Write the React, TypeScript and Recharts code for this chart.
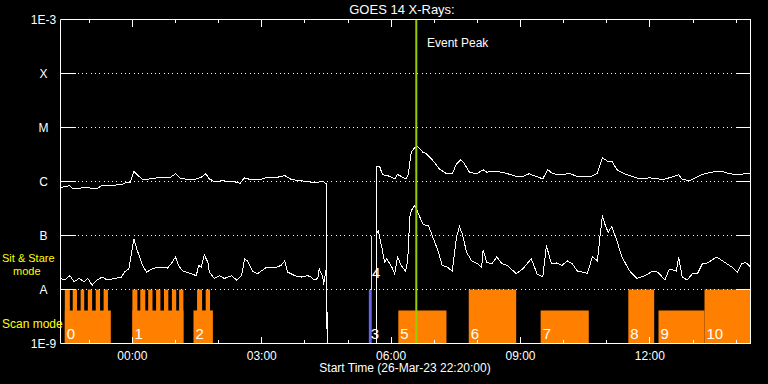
import React from 'react';
import { ComposedChart, Line, XAxis, YAxis, ReferenceLine, ReferenceArea } from 'recharts';

// time axis runs from 22:20 for 16 hours
const START = 22 + 20 / 60;
const hrs = (clock: string) => {
  const [h, m] = clock.split(':').map(Number);
  const v = h + m / 60 - START;
  return v < 0 ? v + 24 : v;
};

// GOES 1-8 A channel (W/m2)
const longChannel: [string, number | null][] = [
  ['22:20', 7.7e-7], ['22:33', 8.4e-7], ['22:37', 7.4e-7], ['22:46', 7.4e-7], ['22:53', 7.8e-7],
  ['22:58', 7.8e-7], ['23:03', 7.4e-7], ['23:11', 7.4e-7], ['23:17', 8.4e-7], ['23:45', 8.7e-7],
  ['23:52', 9.7e-7], ['23:57', 9.7e-7], ['00:02', 1.55e-6], ['00:07', 1.33e-6], ['00:14', 1.09e-6],
  ['00:27', 1.12e-6], ['00:35', 1.17e-6], ['00:52', 1.17e-6], ['01:00', 1.39e-6], ['01:08', 1.12e-6],
  ['01:26', 1.09e-6], ['01:36', 1.2e-6], ['01:42', 1.39e-6], ['01:47', 1.12e-6], ['01:54', 1.0e-6],
  ['02:05', 1.03e-6], ['02:22', 9.9e-7], ['02:30', 9.3e-7], ['02:36', 1.17e-6], ['02:46', 1.07e-6],
  ['02:57', 1.07e-6], ['03:07', 1.2e-6], ['03:22', 1.2e-6], ['03:32', 1.29e-6], ['03:41', 1.09e-6],
  ['03:53', 1.04e-6], ['04:04', 9.9e-7], ['04:13', 9.6e-7], ['04:18', 9.7e-7], ['04:25', 1.0e-6],
  ['04:30', 9.1e-7], ['04:31', 1e-9], ['05:00', null], ['05:39', 1e-9], ['05:40', 1.9e-6],
  ['05:44', 1.9e-6], ['05:48', 1.33e-6], ['05:55', 1.29e-6], ['06:05', 1.12e-6], ['06:09', 1.35e-6],
  ['06:16', 1.2e-6], ['06:21', 1.12e-6], ['06:24', 1.39e-6], ['06:28', 3.49e-6], ['06:33', 4.3e-6],
  ['06:37', 4.45e-6], ['06:44', 3.5e-6], ['06:49', 3.26e-6], ['06:58', 2.45e-6], ['07:07', 1.72e-6],
  ['07:17', 1.39e-6], ['07:25', 1.39e-6], ['07:31', 2.13e-6], ['07:37', 2.52e-6], ['07:42', 2.13e-6],
  ['07:49', 1.49e-6], ['07:59', 1.39e-6], ['08:08', 1.65e-6], ['08:13', 1.49e-6], ['08:27', 1.55e-6],
  ['08:40', 1.42e-6], ['08:54', 1.24e-6], ['09:03', 1.24e-6], ['09:12', 1.39e-6], ['09:22', 1.24e-6],
  ['09:31', 1.12e-6], ['09:38', 1.65e-6], ['09:45', 1.39e-6], ['09:58', 1.33e-6], ['10:08', 1.41e-6],
  ['10:19', 1.24e-6], ['10:39', 1.25e-6], ['10:47', 1.42e-6], ['10:54', 2.75e-6], ['11:01', 2.38e-6],
  ['11:07', 2.38e-6], ['11:15', 1.6e-6], ['11:27', 1.35e-6], ['11:46', 1.12e-6], ['12:00', 1.17e-6],
  ['12:18', 1.09e-6], ['12:27', 1.17e-6], ['12:40', 1.33e-6], ['12:45', 1.09e-6], ['12:55', 1.04e-6],
  ['13:13', 1.35e-6], ['13:26', 1.49e-6], ['13:40', 1.55e-6], ['13:51', 1.39e-6], ['14:05', 1.33e-6],
  ['14:14', 1.42e-6], ['14:20', 1.39e-6],
];

// GOES 0.5-4 A channel (W/m2)
const shortChannel: [string, number | null][] = [
  ['22:20', 1.6e-8], ['22:26', 1.5e-8], ['22:33', 1.8e-8], ['22:39', 1.4e-8], ['22:46', 1.6e-8],
  ['22:53', 1.4e-8], ['22:58', 1.6e-8], ['23:04', 1.2e-8], ['23:11', 1.5e-8], ['23:18', 1.7e-8],
  ['23:25', 1.5e-8], ['23:35', 1.6e-8], ['23:45', 1.7e-8], ['23:49', 2.1e-8], ['23:55', 2.4e-8],
  ['23:59', 4.9e-8], ['00:02', 8.7e-8], ['00:06', 5.7e-8], ['00:10', 4.0e-8], ['00:14', 2.8e-8],
  ['00:20', 2.1e-8], ['00:27', 2.4e-8], ['00:35', 2.6e-8], ['00:49', 2.5e-8], ['00:54', 3.0e-8],
  ['01:00', 4.0e-8], ['01:04', 2.8e-8], ['01:10', 2.2e-8], ['01:22', 1.95e-8], ['01:29', 1.8e-8],
  ['01:32', 2.8e-8], ['01:36', 2.6e-8], ['01:40', 4.4e-8], ['01:45', 3.2e-8], ['01:47', 2.1e-8],
  ['01:54', 1.6e-8], ['02:01', 1.8e-8], ['02:08', 1.6e-8], ['02:18', 1.8e-8], ['02:25', 1.5e-8],
  ['02:32', 1.8e-8], ['02:36', 3.7e-8], ['02:40', 3.4e-8], ['02:47', 2.2e-8], ['02:54', 1.95e-8],
  ['03:07', 2.6e-8], ['03:18', 2.5e-8], ['03:27', 2.8e-8], ['03:32', 3.4e-8], ['03:36', 2.1e-8],
  ['03:46', 1.8e-8], ['03:55', 1.7e-8], ['04:04', 1.8e-8], ['04:09', 1.7e-8], ['04:13', 1.5e-8],
  ['04:18', 1.6e-8], ['04:20', 2.4e-8], ['04:25', 1.7e-8], ['04:26', 1.2e-8], ['04:30', 2.6e-8],
  ['04:31', 1e-9], ['05:00', null], ['05:39', 1e-9], ['05:40', 1.07e-7], ['05:42', 1.24e-7],
  ['05:47', 6.1e-8], ['05:51', 3.2e-8], ['05:54', 3.7e-8], ['06:01', 2.6e-8], ['06:05', 1.95e-8],
  ['06:09', 4.0e-8], ['06:14', 2.8e-8], ['06:20', 2.2e-8], ['06:23', 3.4e-8], ['06:26', 2.18e-7],
  ['06:28', 2.9e-7], ['06:33', 3.6e-7], ['06:38', 2.52e-7], ['06:44', 1.65e-7], ['06:48', 1.53e-7],
  ['06:52', 1.53e-7], ['06:58', 9.3e-8], ['07:05', 5.3e-8], ['07:11', 2.8e-8], ['07:18', 2.6e-8],
  ['07:25', 2.2e-8], ['07:31', 9.3e-8], ['07:35', 1.47e-7], ['07:39', 1.07e-7], ['07:45', 4.9e-8],
  ['07:52', 3.4e-8], ['08:00', 3.0e-8], ['08:06', 2.6e-8], ['08:08', 5.4e-8], ['08:13', 3.2e-8],
  ['08:20', 3.0e-8], ['08:27', 4.0e-8], ['08:34', 3.0e-8], ['08:42', 2.8e-8], ['08:54', 1.95e-8],
  ['09:03', 2.4e-8], ['09:15', 3.7e-8], ['09:23', 1.95e-8], ['09:31', 1.7e-8], ['09:36', 6.5e-8],
  ['09:43', 3.0e-8], ['09:50', 3.1e-8], ['09:58', 2.8e-8], ['10:05', 3.4e-8], ['10:12', 3.0e-8],
  ['10:19', 2.2e-8], ['10:33', 2.0e-8], ['10:40', 4.0e-8], ['10:47', 3.4e-8], ['10:51', 1.07e-7],
  ['10:54', 2.34e-7], ['10:58', 1.53e-7], ['11:02', 1.15e-7], ['11:07', 1.47e-7], ['11:14', 8.1e-8],
  ['11:21', 4.0e-8], ['11:32', 2.2e-8], ['11:42', 1.6e-8], ['11:53', 1.8e-8], ['12:04', 2.2e-8],
  ['12:11', 2.1e-8], ['12:21', 1.5e-8], ['12:27', 2.4e-8], ['12:37', 2.2e-8], ['12:40', 4.0e-8],
  ['12:45', 1.7e-8], ['12:52', 1.5e-8], ['12:59', 1.95e-8], ['13:06', 1.95e-8], ['13:13', 3.0e-8],
  ['13:20', 3.1e-8], ['13:33', 4.0e-8], ['13:41', 3.4e-8], ['13:54', 2.6e-8], ['14:02', 2.1e-8],
  ['14:08', 3.0e-8], ['14:13', 3.2e-8], ['14:20', 2.6e-8],
];

// y axis
const yTicks = [1e-9, 1e-8, 1e-7, 1e-6, 1e-5, 1e-4, 1e-3];
const yTickLabels = ['1E-9', 'A', 'B', 'C', 'M', 'X', '1E-3'];
const gridLevels = [1e-8, 1e-7, 1e-6, 1e-5, 1e-4];

// x axis
const hourTicks = ['23:00', '00:00', '01:00', '02:00', '03:00', '04:00', '05:00', '06:00',
  '07:00', '08:00', '09:00', '10:00', '11:00', '12:00', '13:00', '14:00'];
const majorLabels = ['00:00', '03:00', '06:00', '09:00', '12:00'];

// observing blocks
const SCAN_TOP = 4.1e-9;
const FULL_TOP = 1e-8;
const blockNames = ['0', '1', '2', '3', '5', '6', '7', '8', '9', '10'];
const blockStarts = ['22:26', '00:00', '01:25', '05:29', '06:10', '07:48', '09:28', '11:30', '12:12', '13:16'];
const blockEnds = ['23:30', '01:11', '01:52', '05:33', '07:17', '08:54', '10:35', '12:06', '13:16', '14:20'];
const blockTops = [SCAN_TOP, SCAN_TOP, SCAN_TOP, FULL_TOP, SCAN_TOP, FULL_TOP, SCAN_TOP, FULL_TOP, SCAN_TOP, FULL_TOP];
const spikeStarts = ['22:26', '22:37', '22:48', '22:58', '23:09', '23:20', '00:00', '00:11', '00:22',
  '00:33', '00:44', '00:55', '01:05', '01:30', '01:42'];
const spikeEnds = ['22:33', '22:43', '22:53', '23:04', '23:15', '23:26', '00:07', '00:18', '00:28',
  '00:39', '00:50', '01:01', '01:11', '01:37', '01:48'];
const stareTime = '05:33';
const peakTime = '06:35';

const longData = longChannel.map(([c, f]) => ({ t: hrs(c), f }));
const shortData = shortChannel.map(([c, f]) => ({ t: hrs(c), f }));
const hourTickValues = hourTicks.map(hrs);

const WHITE = '#ffffff';
const ORANGE = '#ff8000';

const BottomTick = (p: any) => {
  const label = hourTicks[p.index];
  const major = majorLabels.includes(label);
  return (
    <g>
      <line x1={p.x} x2={p.x} y1={p.y} y2={p.y - (major ? 7 : 3.5)} stroke={WHITE} shapeRendering="crispEdges" />
      {major && (
        <text x={p.x} y={p.y + 12} textAnchor="middle" dominantBaseline="central" fill={WHITE} fontSize={12}>
          {label}
        </text>
      )}
    </g>
  );
};

const TopTick = (p: any) => {
  const major = majorLabels.includes(hourTicks[p.index]);
  return <line x1={p.x} x2={p.x} y1={p.y} y2={p.y + (major ? 7 : 3.5)} stroke={WHITE} shapeRendering="crispEdges" />;
};

const LeftTick = (p: any) => (
  <g>
    <line x1={p.x} x2={p.x + 15} y1={p.y} y2={p.y} stroke={WHITE} shapeRendering="crispEdges" />
    <text x={p.x - 17} y={p.y} textAnchor="middle" dominantBaseline="central" fill={WHITE} fontSize={12}>
      {yTickLabels[p.index]}
    </text>
  </g>
);

const RightTick = (p: any) => (
  <line x1={p.x} x2={p.x - 15} y1={p.y} y2={p.y} stroke={WHITE} shapeRendering="crispEdges" />
);

const BlockLabel = (props: any) => {
  const vb = props.viewBox || {};
  return (
    <text x={vb.x + 2} y={vb.y + vb.height - 5} fill={WHITE} fontSize={15}>
      {props.value}
    </text>
  );
};

const textStyle: React.CSSProperties = { position: 'absolute', whiteSpace: 'nowrap', fontSize: 12, lineHeight: '12px' };

export default function App() {
  return (
    <div
      style={{
        position: 'fixed', left: 0, top: 0, width: 768, height: 384, background: '#000',
        color: WHITE, fontFamily: '"Liberation Sans", Arial, sans-serif',
      }}
    >
      <ComposedChart width={768} height={384} margin={{ top: 0.5, right: 0.5, bottom: 0.5, left: 0.5 }}>
        <XAxis
          xAxisId="b" type="number" dataKey="t" domain={[0, 16]} allowDataOverflow
          ticks={hourTickValues} interval={0} tickSize={0} tickMargin={0} tickLine={false}
          height={40} stroke={WHITE} tick={(p: any) => <BottomTick {...p} />}
        />
        <XAxis
          xAxisId="t" orientation="top" type="number" dataKey="t" domain={[0, 16]} allowDataOverflow
          ticks={hourTickValues} interval={0} tickSize={0} tickMargin={0} tickLine={false}
          height={19} stroke={WHITE} tick={(p: any) => <TopTick {...p} />}
        />
        <YAxis
          yAxisId="l" scale="log" domain={[1e-9, 1e-3]} allowDataOverflow ticks={yTicks} interval={0}
          tickSize={0} tickMargin={0} tickLine={false} width={60} stroke={WHITE}
          tick={(p: any) => <LeftTick {...p} />}
        />
        <YAxis
          yAxisId="r" orientation="right" scale="log" domain={[1e-9, 1e-3]} allowDataOverflow ticks={yTicks}
          interval={0} tickSize={0} tickMargin={0} tickLine={false} width={17} stroke={WHITE}
          tick={(p: any) => <RightTick {...p} />}
        />

        {gridLevels.map((v) => (
          <ReferenceLine
            key={v} xAxisId="b" yAxisId="l" y={v} stroke={WHITE} strokeDasharray="1 3.3" shapeRendering="crispEdges"
          />
        ))}

        {spikeStarts.map((s, i) => (
          <ReferenceArea
            key={'s' + i} xAxisId="b" yAxisId="l" x1={hrs(s)} x2={hrs(spikeEnds[i])} y1={1e-9} y2={FULL_TOP}
            fill={ORANGE} fillOpacity={1} stroke="none"
          />
        ))}
        {blockNames.map((n, i) => (
          <ReferenceArea
            key={'b' + n} xAxisId="b" yAxisId="l" x1={hrs(blockStarts[i])} x2={hrs(blockEnds[i])}
            y1={1e-9} y2={blockTops[i]} fill={n === '3' ? '#6464f0' : ORANGE} fillOpacity={1} stroke="none"
            label={(props: any) => <BlockLabel {...props} value={n} />}
          />
        ))}

        <ReferenceLine
          xAxisId="b" yAxisId="l" stroke="#ffff00" shapeRendering="crispEdges"
          segment={[{ x: hrs(stareTime), y: 1e-8 }, { x: hrs(stareTime), y: 1e-7 }]}
        />

        <Line
          xAxisId="b" yAxisId="l" data={longData} dataKey="f" type="linear" stroke={WHITE} strokeWidth={1}
          dot={false} activeDot={false} isAnimationActive={false} shapeRendering="crispEdges"
        />
        <Line
          xAxisId="b" yAxisId="l" data={shortData} dataKey="f" type="linear" stroke={WHITE} strokeWidth={1}
          dot={false} activeDot={false} isAnimationActive={false} shapeRendering="crispEdges"
        />

        <ReferenceLine xAxisId="b" yAxisId="l" x={hrs(peakTime)} stroke="#99cc00" strokeWidth={2} />
      </ComposedChart>

      <div style={{ ...textStyle, left: 302, width: 200, top: 3, textAlign: 'center', fontSize: 13, lineHeight: '13px' }}>
        GOES 14 X-Rays:
      </div>
      <div style={{ ...textStyle, left: 427, top: 37 }}>Event Peak</div>
      <div style={{ ...textStyle, left: 255, width: 300, top: 362, textAlign: 'center' }}>
        Start Time (26-Mar-23 22:20:00)
      </div>
      <div style={{ ...textStyle, left: 2, top: 253, fontSize: 11, lineHeight: '11px', color: '#ffff00' }}>
        {'Sit & Stare'}
      </div>
      <div style={{ ...textStyle, left: 13, top: 266, fontSize: 11, lineHeight: '11px', color: '#ffff00' }}>mode</div>
      <div style={{ ...textStyle, left: 2, top: 318, color: '#ffff00' }}>Scan mode</div>
      <div style={{ ...textStyle, left: 372, top: 265, fontSize: 15, lineHeight: '15px' }}>4</div>
    </div>
  );
}
